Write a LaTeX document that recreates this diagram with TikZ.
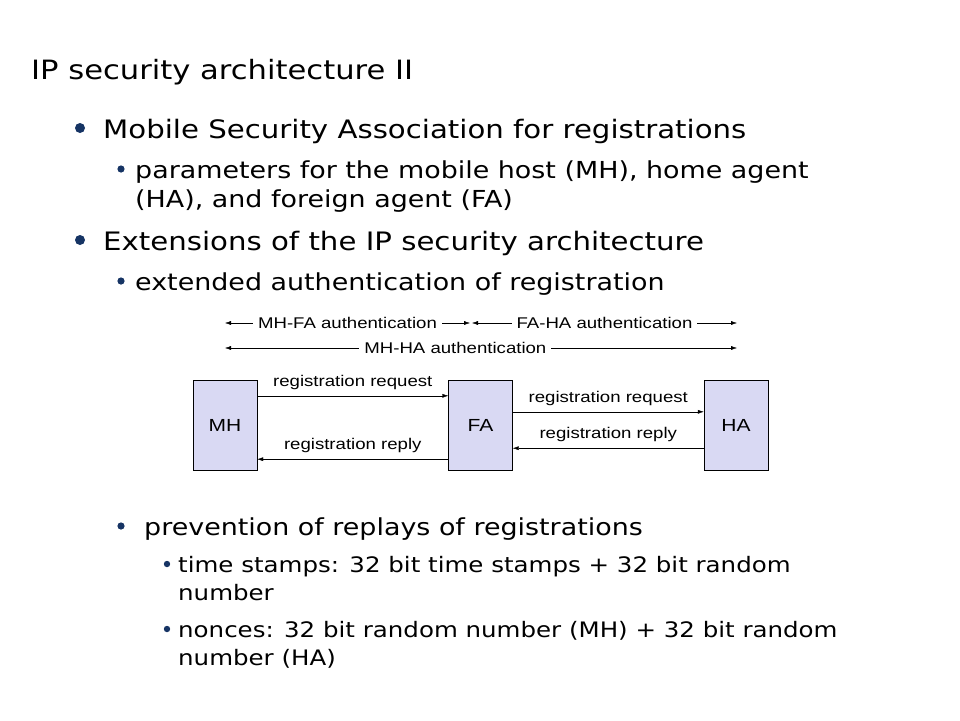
\documentclass[tikz,border=0pt]{standalone}
\usepackage{fontspec}
\setmainfont{DejaVu Sans}[FakeStretch=1.15]
\newfontfamily\diafont{Liberation Sans}[FakeStretch=1.2]
\usepackage{xcolor}
\usetikzlibrary{arrows.meta}
\definecolor{bullet_blue}{RGB}{22,52,100}
\definecolor{box_fill}{RGB}{217,217,243}
\tikzset{ slide_text/.style = {anchor=base west, inner sep=0pt} }
\tikzset{ title_text/.style = {slide_text, font=\fontsize{26.6}{30}\selectfont} }
\tikzset{ level_one/.style = {slide_text, font=\fontsize{25.4}{30}\selectfont} }
\tikzset{ level_two/.style = {slide_text, font=\fontsize{23.4}{27}\selectfont} }
\tikzset{ level_three/.style = {slide_text, font=\fontsize{21.3}{25}\selectfont} }
\tikzset{ agent_box/.style = {rectangle, draw, fill=box_fill, minimum width=64pt, minimum height=90pt, font=\diafont\fontsize{17.5}{20}\selectfont} }
\tikzset{ msg/.style = {-{Latex[length=6pt,width=4pt]}} }
\tikzset{ msg_label/.style = {font=\diafont\fontsize{15.5}{17}\selectfont, inner sep=6pt} }
\tikzset{ auth_label/.style = {font=\diafont\fontsize{15.5}{17}\selectfont, inner xsep=5pt, inner ysep=1pt, fill=white} }
\tikzset{ auth/.style = {{Latex[length=6pt,width=4pt]}-{Latex[length=6pt,width=4pt]}} }

\begin{document}
\begin{tikzpicture}[x=1pt,y=-1pt]
            \useasboundingbox (0,0) rectangle (960,720);
                    \node [style=title_text] (title) at (31, 79) {IP security architecture II};
                    \fill[bullet_blue] (80,128) circle (5pt);
                    \node [style=level_one] (msa) at (103, 138) {Mobile Security Association for registrations};
                    \fill[bullet_blue] (121,169) circle (3.6pt);
                    \node [style=level_two] (param) at (135, 178) {parameters for the mobile host (MH), home agent};
                    \node [style=level_two] (param2) at (135, 207) {(HA), and foreign agent (FA)};
                    \fill[bullet_blue] (80,240) circle (5pt);
                    \node [style=level_one] (ext) at (103, 250) {Extensions of the IP security architecture};
                    \fill[bullet_blue] (121,281) circle (3.6pt);
                    \node [style=level_two] (extauth) at (135, 290) {extended authentication of registration};
                    \fill[bullet_blue] (121,526) circle (3.6pt);
                    \node [style=level_two] (replay) at (144, 535) {prevention of replays of registrations};
                    \fill[bullet_blue] (167,564) circle (3.2pt);
                    \node [style=level_three] (stamps) at (178, 572) {time stamps: 32 bit time stamps + 32 bit random};
                    \node [style=level_three] (stamps2) at (178, 600) {number};
                    \fill[bullet_blue] (167,629) circle (3.2pt);
                    \node [style=level_three] (nonces) at (178, 637) {nonces: 32 bit random number (MH) + 32 bit random};
                    \node [style=level_three] (nonces2) at (178, 665) {number (HA)};

                    \node [style=agent_box] (MH) at (225, 425) {MH};
                    \node [style=agent_box] (FA) at (480.5, 425) {FA};
                    \node [style=agent_box] (HA) at (736, 425) {HA};
                    \draw[msg] ([yshift=-16pt]MH.north east) to node[msg_label, above] {registration request} ([yshift=-16pt]FA.north west);
                    \draw[msg] ([yshift=-32pt]FA.north east) to node[msg_label, above] {registration request} ([yshift=-32pt]HA.north west);
                    \draw[msg] ([yshift=22pt]HA.south west) to node[msg_label, above] {registration reply} ([yshift=22pt]FA.south east);
                    \draw[msg] ([yshift=11pt]FA.south west) to node[msg_label, above] {registration reply} ([yshift=11pt]MH.south east);

                    \coordinate (mh_end) at (225, 323);
                    \coordinate (fa_left) at (470, 323);
                    \coordinate (fa_right) at (472, 323);
                    \coordinate (ha_end) at (737, 323);
                    \coordinate (mh_end2) at (225, 348);
                    \coordinate (ha_end2) at (737, 348);
                    \draw[auth] (mh_end) to node[auth_label] {MH-FA authentication} (fa_left);
                    \draw[auth] (fa_right) to node[auth_label] {FA-HA authentication} (ha_end);
                    \draw[auth] (mh_end2) to node[auth_label, pos=0.45] {MH-HA authentication} (ha_end2);
            \end{tikzpicture}
\end{document}
